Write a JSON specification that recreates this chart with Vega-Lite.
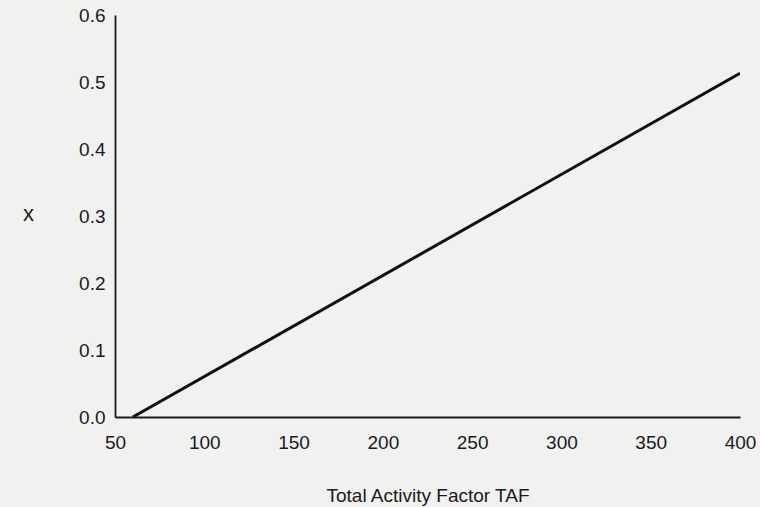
{
  "$schema": "https://vega.github.io/schema/vega-lite/v6.json",
  "width": 625,
  "height": 402,
  "autosize": {"type": "none"},
  "padding": {"left": 115, "top": 15, "right": 20, "bottom": 90},
  "background": "#f1f1f0",
  "config": {"view": {"stroke": null}, "font": "Liberation Sans"},
  "data": {"values": [
    {"TAF": 60, "x": 0.0},
    {"TAF": 400, "x": 0.513}
  ]},
  "mark": {"type": "line", "color": "#111111", "strokeWidth": 3, "clip": true},
  "encoding": {
    "x": {
      "field": "TAF", "type": "quantitative",
      "scale": {"domain": [50, 400], "nice": false, "zero": false},
      "axis": {
        "values": [50, 100, 150, 200, 250, 300, 350, 400],
        "title": "Total Activity Factor TAF",
        "titleFontSize": 19, "titleFontWeight": "normal", "titleColor": "#1a1a1a",
        "titlePadding": 34,
        "labelFontSize": 19, "labelColor": "#1a1a1a", "labelPadding": 16,
        "ticks": false, "grid": false,
        "domainColor": "#1a1a1a", "domainWidth": 1.8,
        "labelFlush": false
      }
    },
    "y": {
      "field": "x", "type": "quantitative",
      "scale": {"domain": [0, 0.6], "nice": false},
      "axis": {
        "values": [0, 0.1, 0.2, 0.3, 0.4, 0.5, 0.6],
        "format": ".1f",
        "title": "x",
        "titleAngle": 0, "titleX": -87, "titleY": 210,
        "titleFontSize": 22, "titleFontWeight": "normal", "titleColor": "#1a1a1a",
        "labelFontSize": 19, "labelColor": "#1a1a1a", "labelPadding": 10,
        "ticks": false, "grid": false,
        "domainColor": "#1a1a1a", "domainWidth": 1.8
      }
    }
  }
}
